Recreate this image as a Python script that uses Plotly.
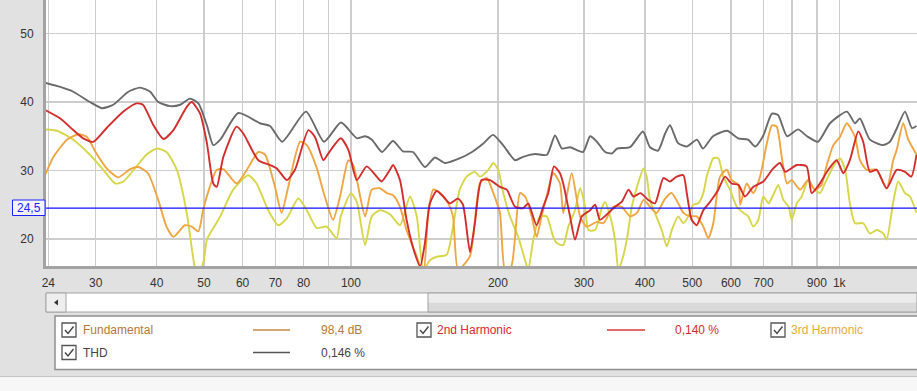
import math
import plotly.graph_objects as go

# ---------------- data ----------------
thd_freq = [23.7, 25.4, 27.0, 29.2, 30.9, 32.6, 35.0, 37.0, 38.8, 40.3, 42.6, 44.7, 46.8, 48.7, 50.7,
            52.25, 54.0, 58.8, 65.1, 68.3, 72.3, 80.9, 88.1, 95.4, 102.9, 106.9, 110.4, 115.8, 121.9,
            127.8, 134, 141.8, 148.6, 155.8, 167.3, 177.0, 186.4, 195.4, 204.9, 216.8, 225.1, 238.2,
            252.0, 261.8, 270.5, 281, 298.8, 308.9, 319, 331.5, 342.5, 350.7, 372.9, 396.3, 409.7,
            425.5, 440, 450.2, 467.6, 487.8, 511.3, 526, 551.4, 589.2, 620.7, 650.6, 672.5, 698, 728,
            749.4, 782, 823.6, 859, 904.8, 957.3, 1037, 1077, 1102.6, 1155.6, 1229, 1270, 1313,
            1363.6, 1409, 1440]
thd_db = [42.8, 42.2, 41.5, 40.0, 39.1, 39.6, 41.5, 42.1, 41.5, 40.0, 39.4, 39.6, 40.5, 39.8, 36.6,
          33.7, 34.5, 38.4, 36.9, 36.5, 34.2, 38.6, 34.2, 37.0, 34.7, 35.0, 34.5, 32.7, 34.3,
          32.8, 32.7, 30.5, 31.9, 31.1, 31.8, 32.7, 33.9, 35.2, 33.7, 31.5, 32.0, 32.4,
          32.3, 35.1, 33.2, 33.4, 32.7, 35.0, 34.2, 32.7, 32.5, 33.2, 33.4, 35.7, 33.4,
          32.9, 35.4, 36.6, 34.0, 33.5, 34.5, 33.2, 35.0, 35.8, 34.7, 34.5, 33.5, 35.0, 38.3,
          38.1, 35.0, 36.0, 35.0, 34.2, 36.9, 38.6, 36.9, 37.6, 34.5, 33.7, 34.2, 36.2,
          38.6, 36.2, 36.5]

h2_freq = [23.7, 25.4, 27.0, 28.3, 29.7, 31.6, 34.2, 36.4, 37.5, 39.4, 41.3, 43.3, 46.1, 47.2, 49.1,
           50.7, 52.25, 53.1, 54.8, 58.3, 60.2, 64.6, 68.3, 70.5, 73.9, 76.8, 81.8, 84.4, 87.8, 89.9,
           95.3, 98.8, 102.8, 107.7, 112.9, 115.6, 120.2, 122, 126, 130, 134.2, 138.6, 141.8, 145.1,
           149.8, 154.6, 159.3, 165.7, 169.6, 175.3, 179.4, 185.1, 192.6, 201.9, 208.5, 216.8, 225.4,
           230.7, 240.0, 247.6, 253.6, 260.5, 268.0, 272.1, 281, 287.7, 297.0, 308.9, 316.3, 323.6,
           336.8, 347.4, 358.5, 370.4, 379.0, 391.5, 406.4, 419.4, 436.4, 450.2, 464.6, 479.6, 487.3,
           498.6, 510.5, 526.8, 543.6, 565.4, 583.5, 602, 621.8, 641.2, 666.4, 699, 732.5, 756.5,
           775.7, 818.6, 857.4, 878, 912.7, 949.5, 988, 1019.7, 1051.5, 1093.9, 1119.5, 1155.6,
           1193, 1250.6, 1311, 1363.6, 1404.5, 1440]
h2_db = [38.8, 37.6, 35.9, 34.7, 34.2, 36.2, 38.6, 39.8, 39.6, 36.6, 34.6, 35.9, 39.3, 40.0, 38.3,
         34.0, 28.1, 27.6, 32.0, 36.4, 35.4, 31.5, 30.8, 30.3, 28.6, 30.1, 35.9, 34.9, 31.5, 32.5,
         34.7, 33.0, 28.6, 30.6, 29.1, 28.4, 30.1, 30.8, 28.6, 22.8, 18.6, 16.0, 19.5, 25.2,
         27.0, 26.2, 25.2, 25.9, 25.0, 18.1, 22.3, 28.6, 28.6, 27.6, 27.2, 24.7, 24.5,
         25.2, 22.0, 24.7, 26.7, 30.6, 29.6, 28.1, 23.3, 19.9, 23.3, 24.2, 25.0, 22.8,
         23.8, 24.7, 25.4, 27.2, 26.2, 26.7, 25.7, 25.2, 28.9, 28.4, 29.1, 29.3, 26.7,
         22.8, 22.0, 24.2, 25.4, 27.2, 29.1, 28.1, 27.9, 26.2, 27.6, 28.4, 30.3, 31.1,
         29.8, 30.8, 30.6, 26.7, 28.1, 30.1, 31.5, 29.6, 31.5, 35.7, 34.2, 29.8,
         30.1, 27.4, 30.1, 29.8, 29.1, 32.3]

h3_freq = [23.7, 24.6, 26.2, 27.7, 28.8, 30.1, 31.6, 33.4, 35.3, 36.7, 38.4, 40.3, 41.9, 43.3, 44.7,
           45.7, 47.2, 48.7, 49.8, 51.4, 53.1, 54.8, 58.3, 61.2, 64.6, 66.7, 69.9, 72.1, 74.4, 78.7,
           81.2, 84.9, 88.4, 91.9, 95.0, 98.8, 101.1, 106.9, 110.3, 114.7, 118.4, 122, 126, 130,
           136.4, 140.7, 144.0, 147.4, 152.2, 158.2, 161.8, 165.7, 175.3, 183.7, 189.7, 195.7, 201.9,
           206.8, 213, 221.9, 227.3, 234.5, 240.0, 245.7, 251.6, 259.6, 268.0, 272.1, 283.2, 294.6,
           304.1, 318.8, 328.9, 344.6, 358.5, 373.0, 385.3, 397.4, 409.7, 422.5, 440, 454.0, 468.0,
           479.6, 494.9, 510.5, 526.8, 539.2, 552.2, 569.9, 588.3, 602, 621.8, 627, 646.3, 666.4,
           688.4, 711, 728.2, 744.5, 762.5, 781.9, 799.2, 831.5, 863.9, 891.5, 919.8, 941.3, 972.7,
           1003.4, 1036.5, 1077, 1102.6, 1137.3, 1193, 1250.6, 1290, 1311, 1352, 1385, 1440]
h3_db = [29.5, 32.0, 34.5, 35.3, 34.9, 32.5, 30.3, 29.0, 30.2, 30.5, 29.6, 25.7, 21.8, 20.3, 21.3,
         22.0, 21.8, 21.1, 24.2, 27.6, 30.1, 30.2, 28.1, 30.1, 32.7, 32.3, 27.6, 23.8, 27.6, 34.2,
         33.7, 30.6, 26.2, 22.8, 26.2, 31.5, 30.8, 23.3, 27.2, 27.4, 26.7, 26.4, 24.7, 21.3,
         17.4, 15.0, 23.8, 27.2, 26.7, 25.2, 23.3, 15.5, 17.5, 28.1, 28.9, 26.7, 23.8,
         15.5, 16.0, 26.7, 26.2, 23.3, 20.3, 23.3, 26.2, 29.6, 28.1, 23.8, 29.6, 23.3,
         21.8, 22.5, 22.3, 24.7, 24.7, 23.3, 23.8, 25.7, 24.7, 23.8, 25.9, 26.7, 25.2,
         23.8, 23.3, 23.3, 21.8, 20.1, 22.3, 29.1, 30.1, 28.6, 27.9, 25.0, 28.1, 26.7,
         29.1, 34.0, 36.6, 36.4, 32.0, 28.1, 28.6, 27.2, 28.6, 27.2, 27.9, 30.6, 33.7,
         34.9, 36.9, 34.9, 31.5, 30.1, 30.1, 27.4, 31.5, 33.0, 36.9, 34.5, 32.3]

h4_freq = [23.7, 25.0, 27.0, 29.2, 31.1, 32.9, 34.2, 36.4, 38.1, 40.0, 41.9, 44.0, 46.1, 47.6, 48.5,
           50.0, 50.7, 52.25, 54.0, 57.4, 61.6, 64.1, 67.7, 71.0, 73.9, 78.0, 81.2, 85.1, 89.2, 93.5,
           95.3, 100, 102.8, 106.9, 110.3, 114.7, 120.2, 126, 132.1, 136.4, 140.7, 145.1, 149.8,
           157.1, 161.8, 167.0, 172.5, 179.4, 183.7, 191.1, 195.7, 200.3, 205.1, 211.7, 220.1, 227.3,
           230.7, 236.3, 243.8, 251.6, 259.6, 263.9, 272.1, 278.7, 287.7, 294.6, 301.6, 306.4, 316.3,
           326.3, 331.5, 339.5, 347.4, 352.9, 358.5, 367.3, 376.0, 385.3, 397.4, 403.3, 409.7, 419.4,
           432.9, 443.6, 454.0, 468.0, 479.6, 491, 502.4, 514.5, 526.8, 535.2, 543.6, 552.2, 565.4,
           578.9, 597.5, 616.9, 637, 651.2, 666.4, 683, 699, 716.6, 732.5, 750, 768.6, 787.8, 799.2,
           818.6, 838, 863.9, 884.5, 912.7, 941.3, 972.7, 1003.4, 1028, 1051.5, 1077, 1119.5, 1155.6,
           1193, 1231, 1250.6, 1290, 1320.6, 1363.6, 1396, 1440]
h4_db = [36.0, 35.8, 34.5, 32.3, 30.1, 28.1, 28.4, 30.6, 32.3, 33.2, 32.7, 30.1, 23.8, 16.9, 14.0,
         17.0, 19.9, 21.6, 23.3, 27.2, 29.3, 28.1, 24.2, 22.0, 23.0, 25.9, 24.2, 21.6, 21.8, 20.1,
         23.3, 26.7, 25.4, 19.1, 23.3, 24.2, 23.6, 22.0, 26.2, 23.3, 15.5, 16.9, 17.4,
         17.7, 21.8, 27.2, 29.1, 29.8, 29.1, 30.1, 31.1, 30.1, 26.7, 23.3, 20.3, 16.9,
         15.5, 19.9, 23.3, 23.3, 20.3, 19.4, 19.1, 21.8, 24.2, 27.4, 24.7, 21.3, 21.3,
         24.5, 25.4, 23.3, 19.9, 15.5, 16.7, 19.9, 24.7, 27.6, 30.3, 29.1, 25.7, 23.8,
         21.3, 18.9, 21.3, 23.3, 22.3, 23.3, 25.0, 25.2, 26.7, 29.1, 30.6, 31.8, 31.8,
         29.1, 27.2, 24.7, 23.8, 23.3, 21.8, 22.8, 26.2, 25.2, 26.4, 27.9, 25.7, 24.7, 22.8,
         25.2, 26.2, 28.6, 27.4, 26.7, 28.6, 30.6, 31.8, 30.1, 25.2, 22.3, 22.3, 20.8,
         21.3, 20.8, 19.9, 25.4, 28.4, 26.7, 26.2, 23.8]

grid_freqs = [24, 30, 40, 50, 60, 70, 80, 90, 100, 200, 300, 400, 500, 600, 700, 800, 900, 1000]
grid_labels = ["24", "30", "40", "50", "60", "70", "80", "", "100", "200", "300", "400", "500",
               "600", "700", "", "900", "1k"]
db_ticks = [20, 30, 40, 50]
freq_range = [23.74, 1443]
db_range = [16.05, 54.9]
marker_level = 24.5
marker_label = "24,5"

legend_names = ["Fundamental", "2nd Harmonic", "3rd Harmonic", "THD"]
legend_values = ["98,4 dB", "0,140 %", "", "0,146 %"]

# ---------------- styling / layout ----------------
W, H = 917, 391
ML, MR, MT, MB = 46, 0, 0, 125
PW, PH = W - ML - MR, H - MT - MB


def px(x):
    return (x - ML) / PW


def py(y):
    return (H - MB - y) / PH


FONT = "Liberation Sans, Arial, sans-serif"
C_THD = "#6a6a6a"
C_H2 = "#d22d2d"
C_H3 = "#eea543"
C_H4 = "#d6d64a"

fig = go.Figure()
for f, v, c in [(h4_freq, h4_db, C_H4), (h3_freq, h3_db, C_H3), (h2_freq, h2_db, C_H2),
                (thd_freq, thd_db, C_THD)]:
    fig.add_trace(go.Scatter(x=f, y=v, mode="lines", showlegend=False, hoverinfo="skip",
                             line=dict(color=c, width=1.9, shape="spline", smoothing=0.6)))

shapes = []
annotations = []

# marker line
shapes.append(dict(type="line", xref="paper", yref="y", x0=0, x1=1, y0=marker_level, y1=marker_level,
                   line=dict(color="#1010ff", width=1.2), layer="above"))
# marker box
shapes.append(dict(type="rect", xref="paper", yref="paper", x0=px(12.5), x1=px(45), y0=py(215.5), y1=py(200),
                   fillcolor="#f4f4ff", line=dict(color="#2020ff", width=1), layer="above"))
annotations.append(dict(text=marker_label, xref="paper", yref="paper", x=px(28.8), y=py(208),
                        showarrow=False, font=dict(family=FONT, size=12, color="#2020ff"),
                        xanchor="center", yanchor="middle"))

# bottom white strip
shapes.append(dict(type="rect", xref="paper", yref="paper", x0=px(0), x1=px(W), y0=py(391), y1=py(376.5),
                   fillcolor="#f7f7f7", line=dict(width=0), layer="below"))
shapes.append(dict(type="line", xref="paper", yref="paper", x0=px(0), x1=px(W), y0=py(376.5), y1=py(376.5),
                   line=dict(color="#c4c4c4", width=1)))

# scrollbar
shapes.append(dict(type="rect", xref="paper", yref="paper", x0=px(46), x1=px(917), y0=py(312), y1=py(293),
                   fillcolor="#ffffff", line=dict(color="#a4a4a4", width=1)))
shapes.append(dict(type="rect", xref="paper", yref="paper", x0=px(46), x1=px(66), y0=py(312), y1=py(293),
                   fillcolor="#eeeeee", line=dict(color="#a4a4a4", width=1)))
shapes.append(dict(type="path", xref="paper", yref="paper",
                   path=f"M {px(54)} {py(302.5)} L {px(58)} {py(299.5)} L {px(58)} {py(305.5)} Z",
                   fillcolor="#333333", line=dict(width=0)))
shapes.append(dict(type="rect", xref="paper", yref="paper", x0=px(428), x1=px(917), y0=py(302.5), y1=py(293),
                   fillcolor="#ececec", line=dict(width=0)))
shapes.append(dict(type="rect", xref="paper", yref="paper", x0=px(428), x1=px(917), y0=py(312), y1=py(302.5),
                   fillcolor="#d9d9d9", line=dict(width=0)))
shapes.append(dict(type="rect", xref="paper", yref="paper", x0=px(428), x1=px(917), y0=py(312), y1=py(293),
                   fillcolor="rgba(0,0,0,0)", line=dict(color="#a0a0a0", width=1)))

# legend panel
shapes.append(dict(type="rect", xref="paper", yref="paper", x0=px(55), x1=px(918), y0=py(369.5), y1=py(316),
                   fillcolor="#ffffff", line=dict(color="#8e8e8e", width=1.5)))


def checkbox(cx, cy):
    x0, y0 = cx - 7, cy - 7
    shapes.append(dict(type="rect", xref="paper", yref="paper", x0=px(x0), x1=px(x0 + 14), y0=py(y0 + 14),
                       y1=py(y0), fillcolor="#ffffff", line=dict(color="#555555", width=1.3)))
    shapes.append(dict(type="path", xref="paper", yref="paper",
                       path=f"M {px(x0 + 3)} {py(y0 + 7)} L {px(x0 + 6)} {py(y0 + 10.5)} L {px(x0 + 11.5)} {py(y0 + 3.5)}",
                       line=dict(color="#444444", width=1.4)))


def text(t, x, y, color, anchor="left"):
    annotations.append(dict(text=t, xref="paper", yref="paper", x=px(x), y=py(y), showarrow=False,
                            xanchor=anchor, yanchor="middle", font=dict(family=FONT, size=12, color=color)))


def sample(x0, x1, y, color):
    shapes.append(dict(type="line", xref="paper", yref="paper", x0=px(x0), x1=px(x1), y0=py(y), y1=py(y),
                       line=dict(color=color, width=1.3)))


R1, R2 = 330, 352.5
checkbox(69, R1)
text(legend_names[0], 81, R1, "#b5773a")
sample(253, 290, R1, "#c8884a")
text(legend_values[0], 319, R1, "#b5773a")

checkbox(424, R1)
text(legend_names[1], 435, R1, "#d42a2a")
sample(607, 645, R1, "#d83a3a")
text(legend_values[1], 673, R1, "#d42a2a")

checkbox(778, R1)
text(legend_names[2], 789, R1, "#eaa840")

checkbox(69, R2)
text(legend_names[3], 81, R2, "#444444")
sample(253, 290, R2, "#555555")
text(legend_values[3], 319, R2, "#444444")

fig.update_layout(
    width=W, height=H,
    margin=dict(l=ML, r=MR, t=MT, b=MB, pad=0),
    paper_bgcolor="#e1e1e1",
    plot_bgcolor="#ffffff",
    showlegend=False,
    hovermode=False,
    shapes=shapes,
    annotations=annotations,
    xaxis=dict(type="log", range=[math.log10(freq_range[0]), math.log10(freq_range[1])],
               tickmode="array", tickvals=grid_freqs, ticktext=grid_labels,
               showgrid=True, gridcolor="#cdcdcd", gridwidth=1.3, zeroline=False,
               showline=True, linecolor="#a3a3a3", linewidth=3,
               ticks="outside", ticklen=4, tickcolor="rgba(0,0,0,0)",
               tickfont=dict(family=FONT, size=12, color="#333333")),
    yaxis=dict(range=db_range, tickmode="array", tickvals=db_ticks,
               showgrid=True, gridcolor="#cdcdcd", gridwidth=1.3, zeroline=False,
               showline=True, linecolor="#a3a3a3", linewidth=3,
               ticks="outside", ticklen=7, tickcolor="rgba(0,0,0,0)",
               tickfont=dict(family=FONT, size=12, color="#333333")),
)

fig.write_html("out.html", config={"displayModeBar": False, "staticPlot": True},
               post_script="document.body.style.margin='0';document.body.style.overflow='hidden';")
